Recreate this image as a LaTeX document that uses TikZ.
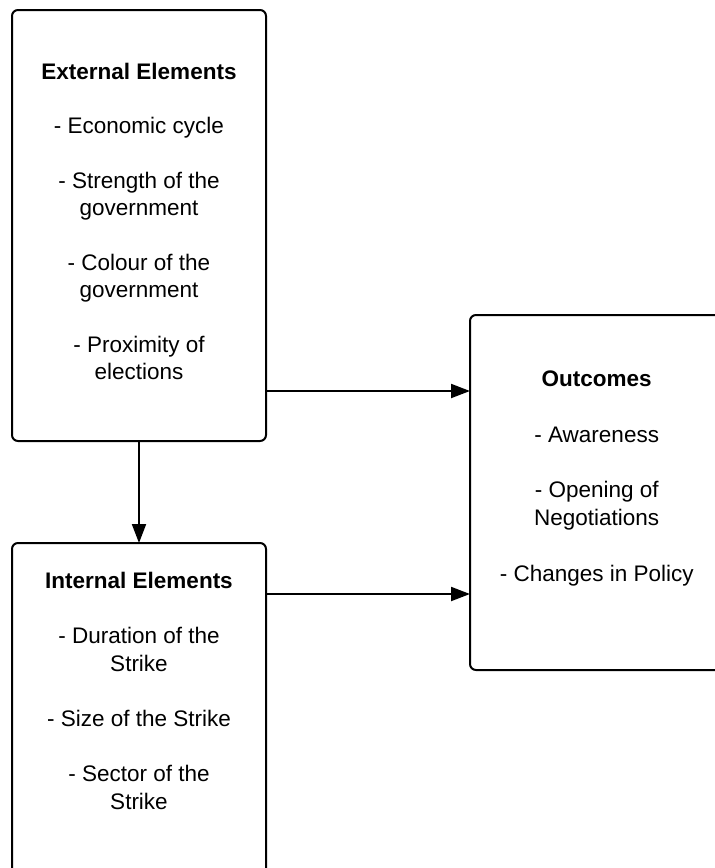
\documentclass[tikz,border=0pt]{standalone}
\usepackage{fontspec}
\setmainfont{Liberation Sans}
\usetikzlibrary{arrows.meta}
\begin{document}
\begin{tikzpicture}[x=1pt,y=-1pt,
  box/.style={draw, line width=2pt, rounded corners=6pt, inner sep=0pt, outer sep=0pt},
  txt/.style={align=center, inner sep=0pt, anchor=base, font=\fontsize{22.5}{27.3}\selectfont},
  arr/.style={line width=2pt, -{Triangle[length=19pt,width=14pt]}}]
\useasboundingbox (0,0) rectangle (715,868);
\fill[white] (0,0) rectangle (715,868);
\node[box, minimum width=254pt, minimum height=431pt] (ext) at (139,225.5) {};
\node[box, minimum width=254pt, minimum height=357pt] (int) at (139,721.5) {};
\node[box, minimum width=253pt, minimum height=355pt] (out) at (596.5,492.5) {};
\node[txt] (exttxt) at (139,379.5) {\textbf{External Elements}\\[27.3pt]
- Economic cycle\\[27.3pt]
- Strength of the\\ government\\[27.3pt]
- Colour of the\\ government\\[27.3pt]
- Proximity of\\ elections};
\node[txt, font=\fontsize{22.5}{27.6}\selectfont] (inttxt) at (139,809) {\textbf{Internal Elements}\\[27.6pt]
- Duration of the\\ Strike\\[27.6pt]
- Size of the Strike\\[27.6pt]
- Sector of the\\ Strike};
\node[txt, font=\fontsize{22.5}{27.9}\selectfont] (outtxt) at (596.7,581.5) {\textbf{Outcomes}\\[27.9pt]
- Awareness\\[27.9pt]
- Opening of\\ Negotiations\\[27.9pt]
- Changes in Policy};
\coordinate (r1) at (0,391);
\coordinate (r2) at (0,594);
\draw[arr] (ext.east |- r1) -- (out.west |- r1);
\draw[arr] (int.east |- r2) -- (out.west |- r2);
\draw[arr] (ext.south) -- (int.north);
\end{tikzpicture}
\end{document}
